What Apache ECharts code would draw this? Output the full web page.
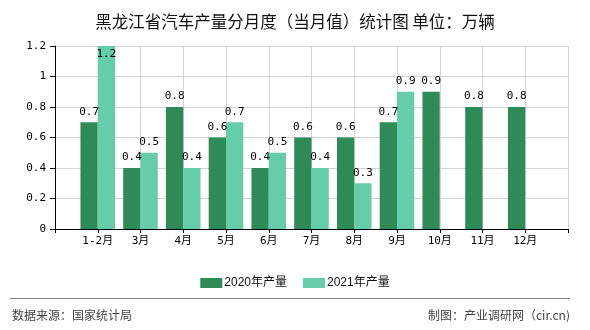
<!DOCTYPE html>
<html>
<head>
<meta charset="utf-8">
<script src="https://cdn.jsdelivr.net/npm/echarts@6/dist/echarts.min.js"></script>
<style>html,body{margin:0;padding:0;background:#fff;}#c{width:590px;height:330px;}</style>
</head>
<body>
<div id="c"></div>
<script>
const titleText = '黑龙江省汽车产量分月度（当月值）统计图 单位：万辆';
const months = ['1-2月','3月','4月','5月','6月','7月','8月','9月','10月','11月','12月'];
const prod2020 = [0.7,0.4,0.8,0.6,0.4,0.6,0.6,0.7,0.9,0.8,0.8];
const prod2021 = [1.2,0.5,0.4,0.7,0.5,0.4,0.3,0.9];
const seriesNames = ['2020年产量','2021年产量'];
const colors = ['#2e8b57','#66cdaa'];
const yMax = 1.2;

const monoFont = "'DejaVu Sans Mono','Noto Sans CJK SC',monospace";

function toData(arr){
  return arr.map((v,i)=>{
    const d = {value:[i+1, v]};
    if (v >= yMax) d.label = {position:'insideTop', distance:3};
    return d;
  });
}

const chart = echarts.init(document.getElementById('c'), null, {renderer:'canvas'});
chart.setOption({
  animation:false,
  backgroundColor:'#fff',
  title:{
    text:titleText, left:'center', top:8,
    textStyle:{fontSize:16.5, fontWeight:'normal', color:'#111', fontFamily:"'Noto Sans CJK SC',sans-serif"}
  },
  legend:{
    data:seriesNames, left:'center', top:272,
    itemWidth:22, itemHeight:10, itemGap:16,
    icon:'rect',
    textStyle:{fontSize:12, color:'#111', padding:[0,0,0,-3], fontFamily:"'Liberation Sans','Noto Sans CJK SC',sans-serif"}
  },
  grid:{left:55, right:22, top:46, bottom:101, containLabel:false},
  xAxis:{
    type:'value', min:0, max:months.length+1, interval:1,
    axisLine:{show:true, lineStyle:{color:'#000', width:1}},
    axisTick:{show:true, length:4, lineStyle:{color:'#000'}},
    axisLabel:{margin:7, fontSize:11, color:'#000', fontFamily:monoFont,
      formatter:v=>months[v-1]||''},
    splitLine:{show:true, lineStyle:{color:'#d4d4d4', width:1}}
  },
  yAxis:{
    type:'value', min:0, max:yMax, interval:0.2,
    axisLine:{show:true, lineStyle:{color:'#000', width:1}},
    axisTick:{show:true, length:5, lineStyle:{color:'#000'}},
    axisLabel:{margin:9, fontSize:11, color:'#000', fontFamily:monoFont},
    splitLine:{show:true, lineStyle:{color:'#d4d4d4', width:1}}
  },
  series:[
    {name:seriesNames[0], type:'bar', data:toData(prod2020), barWidth:17.3, barGap:'0%',
      itemStyle:{color:colors[0]},
      label:{show:true, position:'top', distance:5, fontSize:11, color:'#000', fontFamily:monoFont}},
    {name:seriesNames[1], type:'bar', data:toData(prod2021), barWidth:17.3, barGap:'0%',
      itemStyle:{color:colors[1]},
      label:{show:true, position:'top', distance:5, fontSize:11, color:'#000', fontFamily:monoFont}}
  ],
  graphic:[
    {type:'line', shape:{x1:10, y1:298.5, x2:570, y2:298.5}, style:{stroke:'#808080', lineWidth:1}},
    {type:'text', left:12, top:309, style:{text:'数据来源：国家统计局', fontSize:12, fill:'#444', fontFamily:"'Noto Sans CJK SC',sans-serif"}},
    {type:'text', right:20, top:309, style:{text:'制图：产业调研网（cir.cn)', fontSize:12, fill:'#444', fontFamily:"'Noto Sans CJK SC',sans-serif"}}
  ]
});
</script>
</body>
</html>
